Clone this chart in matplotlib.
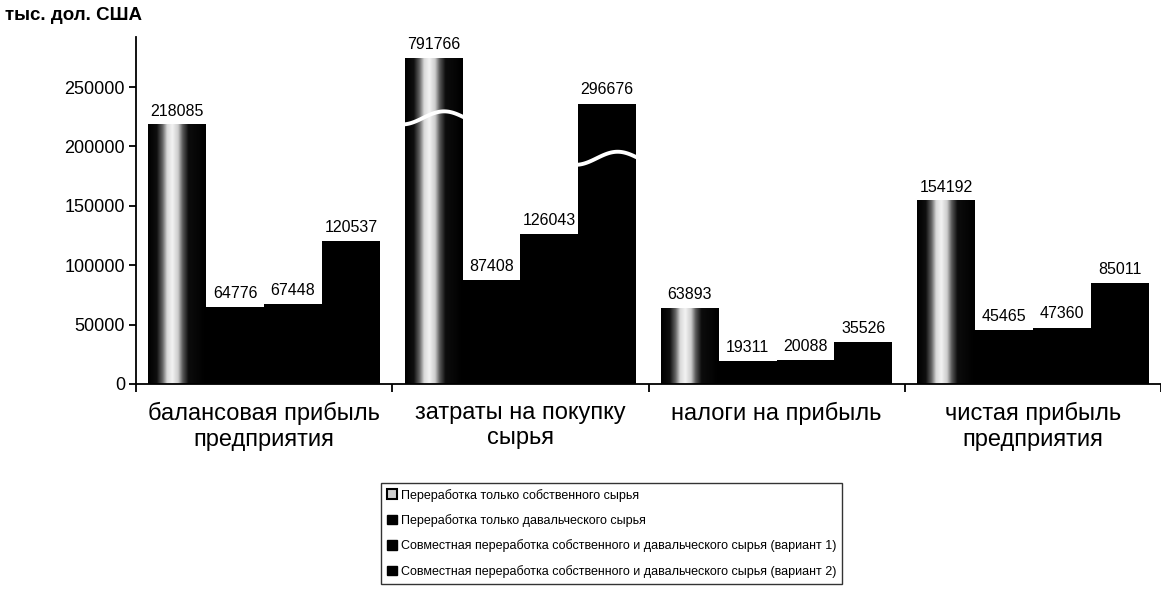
import numpy as np
import matplotlib
matplotlib.use("Agg")
import matplotlib.pyplot as plt
from matplotlib.patches import Patch

plt.rcParams['font.family'] = ['Liberation Sans', 'DejaVu Sans']

# ---------------- data ----------------
categories = ["балансовая прибыль\nпредприятия",
              "затраты на покупку\nсырья",
              "налоги на прибыль",
              "чистая прибыль\nпредприятия"]
series_names = ["Переработка только собственного сырья",
                "Переработка только давальческого сырья",
                "Совместная переработка собственного и давальческого сырья (вариант 1)",
                "Совместная переработка собственного и давальческого сырья (вариант 2)"]
own_only = [218085, 791766, 63893, 154192]
toll_only = [64776, 87408, 19311, 45465]
joint_v1 = [67448, 126043, 20088, 47360]
joint_v2 = [120537, 296676, 35526, 85011]
y_ticks = [0, 50000, 100000, 150000, 200000, 250000]
y_unit = "тыс. дол. США"

# bars drawn on a broken scale: (category, series) -> (shown height, break level)
broken = {(1, 0): (274000, 224000), (1, 3): (236000, 190000)}

series = [own_only, toll_only, joint_v1, joint_v2]

# ---------------- figure ----------------
W, H = 1161, 603
fig = plt.figure(figsize=(W / 100, H / 100), dpi=100)
x_left, y_zero, y_top = 136, 384, 37
ax = fig.add_axes([x_left / W, 1 - y_zero / H, 1 - x_left / W, (y_zero - y_top) / H])

cat_px = 257
ymax = (y_zero - y_top) / 59.4 * 50000
bw = 58 / cat_px
offsets = [-1.5 * bw, -0.5 * bw, 0.5 * bw, 1.5 * bw]

# cylinder-like shading profile for the first series
tp = [0, 0.15, 0.25, 0.33, 0.42, 0.52, 0.6, 0.7, 1.0]
vp = [0.0, 0.06, 0.4, 0.85, 0.95, 0.8, 0.35, 0.05, 0.0]
tt = np.linspace(0, 1, 120)
grad = np.interp(tt, tp, vp)[np.newaxis, :]

xc = np.arange(len(categories))
for si, vals in enumerate(series):
    for ci, v in enumerate(vals):
        shown, brk = broken.get((ci, si), (v, None))
        x = xc[ci] + offsets[si]
        ax.bar(x, shown, width=bw, color='black', edgecolor='none', zorder=2)
        if si == 0:
            ax.imshow(grad, extent=(x - bw / 2, x + bw / 2, 0, shown), aspect='auto',
                      cmap='gray', vmin=0, vmax=1, interpolation='bilinear', zorder=2.5)
        if brk is not None:
            t = np.linspace(0, 1, 60)
            wx = x - bw / 2 - 0.01 + t * (bw + 0.02)
            wy = brk + 5500 * np.sin(-np.pi / 2 + 1.5 * np.pi * t)
            ax.plot(wx, wy, color='white', lw=2.8, zorder=3, solid_capstyle='butt')
        ax.annotate(f"{v}", (x, shown), xytext=(0, 4.5), textcoords='offset points',
                    ha='center', va='bottom', fontsize=11.5, zorder=4,
                    bbox=dict(facecolor='white', edgecolor='none', pad=0.8))

ax.set_xlim(-0.5, -0.5 + (W - x_left) / cat_px)
ax.set_ylim(0, ymax)

for s in ['top', 'right']:
    ax.spines[s].set_visible(False)
for s in ['left', 'bottom']:
    ax.spines[s].set_linewidth(1.3)
    ax.spines[s].set_color('black')

ax.set_yticks(y_ticks)
ax.set_yticklabels([str(v) for v in y_ticks])
ax.tick_params(axis='y', direction='out', length=5, width=1.3, labelsize=13, pad=3)

ax.set_xticks(xc)
ax.set_xticklabels(categories, fontsize=17, linespacing=1.2)
ax.set_xticks(np.arange(-0.5, 4.0, 1.0), minor=True)
ax.tick_params(axis='x', which='major', length=0, pad=13)
ax.tick_params(axis='x', which='minor', direction='out', length=6, width=1.3)

fig.text(5 / W, 1 - 15 / H, y_unit, fontsize=13.5, fontweight='bold', va='center', ha='left')

handles = [Patch(facecolor='#cfcfcf', edgecolor='black', linewidth=1.5)] + \
          [Patch(facecolor='black', edgecolor='black') for _ in range(3)]
leg = fig.legend(handles, series_names, loc='upper left',
                 bbox_to_anchor=(381 / W, 1 - 483 / H), frameon=True, fancybox=False,
                 fontsize=9.0, handlelength=0.8, handleheight=0.8, handletextpad=0.35,
                 labelspacing=1.0, borderpad=0.45, borderaxespad=0)
leg.get_frame().set_edgecolor('black')
leg.get_frame().set_linewidth(1.0)

fig.savefig("out.png", dpi=100)
